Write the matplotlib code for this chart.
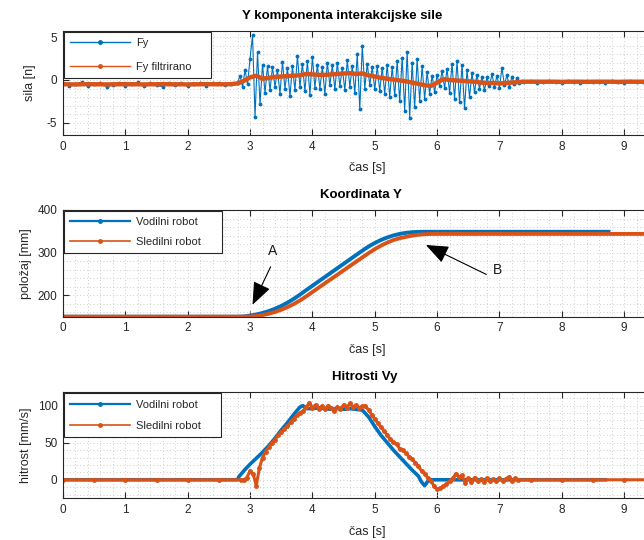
import numpy as np
import matplotlib
matplotlib.use('Agg')
import matplotlib.pyplot as plt
from matplotlib.lines import Line2D
from matplotlib.ticker import MultipleLocator
from matplotlib.patches import ArrowStyle

plt.rcParams['font.family'] = ['Liberation Sans', 'DejaVu Sans']
plt.rcParams['axes.unicode_minus'] = False

BLUE = '#0072BD'
ORANGE = '#D95319'
DARK = '#262626'

# ---------------- data ----------------
# Fy raw: quiet start (0.0..2.7, step 0.1), active part (2.80.., step 0.04), quiet end (7.5.., step 0.1)
fy_head = [-0.35, -0.70, -0.45, -0.25, -0.75, -0.50, -0.30, -0.80, -0.55, -0.30,
           -0.70, -0.45, -0.25, -0.75, -0.40, -0.60, -0.80, -0.35, -0.55, -0.30,
           -0.75, -0.45, -0.35, -0.70, -0.40, -0.30, -0.60, -0.45]
fy_mid = [-0.3, 0.5, -0.8, 1.2, -0.5, 2.5, 5.2, -4.3, 3.2, -2.8,
          1.8, -1.5, 1.6, -1.2, 1.5, -0.8, 1.2, -1.6, 2.1, -1.0,
          1.4, -1.9, 1.6, -1.2, 2.8, -0.8, 1.9, -1.3, 2.2, -1.7,
          2.7, -0.9, 1.8, -1.0, 1.5, -1.6, 2.0, -0.6, 1.7, -1.1,
          2.0, -0.7, 1.4, -1.2, 2.3, -0.8, 1.6, -1.5, 3.0, -3.4,
          4.0, -1.0, 1.9, -0.6, 1.5, -1.1, 1.6, -1.3, 1.4, -1.6,
          1.8, -2.0, 1.5, -1.8, 2.2, -2.5, 2.6, -3.6, 3.3, -4.4,
          2.0, -3.2, 2.4, -2.4, 1.6, -2.2, 0.9, -1.6, 0.5, -1.4,
          0.6, -0.7, 1.1, -0.9, 1.3, -1.5, 1.9, -2.2, 2.2, -2.6,
          1.8, -3.3, 1.2, -2.0, 0.8, -1.4, 0.6, -1.0, 0.4, -1.2,
          0.3, -0.7, 0.7, -0.8, 0.5, -0.9, 1.4, -0.6, 0.6, -0.8,
          0.4, -0.5, 0.2, -0.4, -0.1, -0.25]
fy_tail = [-0.15, -0.30, -0.20, -0.10, -0.25, -0.35, -0.15, -0.20, -0.30, -0.10,
           -0.25, -0.20, -0.35, -0.15, -0.20, -0.30, -0.10, -0.25, -0.20, -0.15,
           -0.30, -0.20, -0.25, -0.10, -0.20, -0.25]
fy_time = np.concatenate([np.arange(len(fy_head)) * 0.1,
                          2.80 + np.arange(len(fy_mid)) * 0.04,
                          7.5 + np.arange(len(fy_tail)) * 0.1])
fy_values = np.array(fy_head + fy_mid + fy_tail)

# Fy filtered, step 0.1 from 0 to 10
fyf_values = [-0.50, -0.50, -0.52, -0.50, -0.48, -0.50, -0.50, -0.52, -0.50, -0.50,
              -0.48, -0.50, -0.50, -0.52, -0.50, -0.50, -0.48, -0.50, -0.50, -0.50,
              -0.52, -0.50, -0.50, -0.48, -0.50, -0.50, -0.50, -0.48,
              -0.40, -0.10, 0.30, 0.50, 0.15, 0.25, 0.35, 0.40, 0.45, 0.50,
              0.55, 0.70, 0.65, 0.60, 0.60, 0.65, 0.70, 0.75, 0.80, 0.70,
              0.75, 0.55, 0.40, 0.25, 0.15, 0.05, -0.05, -0.15, -0.30, -0.45,
              -0.60, -0.70, -0.30, 0.10, 0.00, -0.05, -0.10, -0.15, -0.20, -0.30,
              -0.35, -0.35, -0.40, -0.35, -0.30, -0.25, -0.20, -0.20, -0.20, -0.20,
              -0.20, -0.20, -0.22, -0.20, -0.20, -0.20, -0.22, -0.20, -0.20, -0.20,
              -0.20, -0.22, -0.20, -0.20, -0.20, -0.20, -0.22, -0.20, -0.20, -0.20,
              -0.20, -0.20, -0.20]
fyf_time = np.arange(len(fyf_values)) * 0.1

# Position Y [mm]
pos_lead_time = [0.0, 0.5, 1.0, 1.5, 2.0, 2.5, 2.8, 2.9, 3.0, 3.1, 3.2, 3.3, 3.4, 3.5,
                 3.6, 3.7, 3.8, 3.9, 4.0, 4.1, 4.2, 4.3, 4.4, 4.5, 4.6, 4.7, 4.8,
                 4.9, 5.0, 5.1, 5.2, 5.3, 5.4, 5.5, 5.6, 5.7, 5.8, 6.0, 6.5, 7.0,
                 7.5, 8.0, 8.5, 8.75]
pos_lead = [150.0, 150.0, 150.0, 150.0, 150.0, 150.0, 150.0, 150.6, 152.5, 155.2,
            158.7, 163.1, 168.6, 175.2, 182.9, 191.7, 201.6, 212.2, 222.5, 232.8,
            243.0, 253.3, 263.6, 273.8, 284.1, 294.4, 304.6, 314.3, 322.7, 329.8,
            335.6, 340.5, 344.0, 346.5, 348.0, 348.8, 349.0, 349.0, 349.0, 349.0,
            349.0, 349.0, 349.0, 349.0]
pos_follow_time = [0.0, 0.5, 1.0, 1.5, 2.0, 2.5, 2.9, 3.0, 3.1, 3.2, 3.3, 3.4, 3.5,
                   3.6, 3.7, 3.8, 3.9, 4.0, 4.1, 4.2, 4.3, 4.4, 4.5, 4.6, 4.7, 4.8,
                   4.9, 5.0, 5.1, 5.2, 5.3, 5.4, 5.5, 5.6, 5.7, 5.8, 5.9, 6.0, 6.5,
                   7.0, 7.5, 8.0, 8.5, 9.0, 9.5, 10.0]
pos_follow = [150.0, 150.0, 150.0, 150.0, 150.0, 150.0, 150.0, 150.3, 151.5, 153.8,
              157.0, 161.1, 166.2, 172.4, 179.6, 188.0, 197.5, 207.8, 218.0, 228.1,
              238.2, 248.3, 258.5, 268.6, 278.7, 288.8, 298.8, 308.2, 316.5, 323.6,
              329.6, 334.0, 337.0, 340.0, 342.0, 343.3, 343.9, 344.0, 344.0, 344.0,
              344.0, 344.0, 344.0, 344.0, 344.0, 344.0]

# Velocity Vy [mm/s]
vel_lead_time = [0.0, 0.5, 1.0, 1.5, 2.0, 2.5, 2.80, 2.82, 2.9, 3.0, 3.1, 3.2, 3.3,
                 3.4, 3.5, 3.6, 3.7, 3.8, 3.85, 3.9, 4.0, 4.1, 4.2, 4.3, 4.4, 4.5,
                 4.6, 4.7, 4.8, 4.9, 5.0, 5.1, 5.2, 5.3, 5.4, 5.5, 5.6, 5.7, 5.75,
                 5.8, 5.85, 5.9, 6.0, 6.5, 7.0, 7.5, 8.0, 8.5, 8.7]
vel_lead = [0, 0, 0, 0, 0, 0, 0, 4, 12, 21, 29, 37, 46,
            56, 67, 77, 88, 98, 100, 96, 96, 97, 96, 95, 96, 95,
            96, 95, 94, 85, 72, 60, 50, 40, 31, 22, 13, 5, -3,
            -8, -2, 0, 0, 0, 0, 0, 0, 0, 0]
vel_follow_head_time = [0.0, 0.5, 1.0, 1.5, 2.0, 2.5, 2.85]
vel_follow_head = [0, 0, 0, 0, 0, 0, 0]
vel_follow_mid = [0, 3, 12, 8, -8, 16, 30, 38, 44, 50,
                  54, 60, 64, 69, 72, 78, 82, 87, 90, 93,
                  98, 104, 97, 101, 96, 99, 95, 100, 97, 93,
                  98, 96, 101, 97, 103, 98, 101, 97, 99, 100,
                  94, 88, 82, 76, 71, 66, 60, 55, 51, 48,
                  42, 40, 36, 31, 28, 23, 18, 12, 8, 3,
                  -2, -8, -13, -11, -9, -6, -2, 2, 8, 4,
                  6, -4, 2, -3, 3, -2, 1, -3, 2, -1,
                  1, -2, 2, -1, 1, 4, -1, 2, 0]
vel_follow_tail_time = [7.5, 8.0, 8.5, 9.0, 9.5, 10.0]
vel_follow_tail = [0, 0, 0, 0, 0, 0]
vel_follow_time = np.concatenate([vel_follow_head_time,
                                  2.90 + np.arange(len(vel_follow_mid)) * 0.05,
                                  vel_follow_tail_time])
vel_follow = np.array(vel_follow_head + vel_follow_mid + vel_follow_tail, dtype=float)

# annotations on position plot (data coords)
ann_A_tip, ann_A_tail, ann_A_text = (3.04, 178), (3.33, 267), (3.36, 303)
ann_B_tip, ann_B_tail, ann_B_text = (5.82, 318), (6.79, 249), (6.97, 260)

# ---------------- figure ----------------
W, H = 644, 540
fig = plt.figure(figsize=(W / 100, H / 100), dpi=100)


def px_axes(left, top, right, bottom):
    return fig.add_axes([left / W, 1 - bottom / H, (right - left) / W, (bottom - top) / H])


XR = 672
ax1 = px_axes(63, 31, XR, 135)
ax2 = px_axes(63, 210, XR, 316.7)
ax3 = px_axes(63, 392.3, XR, 498.3)
XMAX = (XR - 62.5) / 62.4


def style(ax, ymin, ymax, ymaj, ymin_step):
    ax.set_xlim(0, XMAX)
    ax.set_ylim(ymin, ymax)
    ax.xaxis.set_major_locator(MultipleLocator(1))
    ax.xaxis.set_minor_locator(MultipleLocator(0.2))
    ax.yaxis.set_major_locator(MultipleLocator(ymaj))
    ax.yaxis.set_minor_locator(MultipleLocator(ymin_step))
    ax.tick_params(which='major', direction='in', top=True, right=True, length=4,
                   width=0.8, color=DARK, labelcolor=DARK, labelsize=8.5, pad=4)
    ax.tick_params(which='minor', length=0)
    for which in ('major', 'minor'):
        ax.grid(True, which=which, linestyle=(0, (1, 3)), color='#bdbdbd', linewidth=0.6)
    for sp in ax.spines.values():
        sp.set_color(DARK)
        sp.set_linewidth(0.8)
    ax.set_axisbelow(True)
    ax.set_xlabel('čas [s]', fontsize=9, color=DARK, labelpad=7)


# --- panel 1 ---
ax1.plot(fy_time, fy_values, color=BLUE, lw=0.8, marker='.', ms=3.5)
ax1.plot(fyf_time, fyf_values, color=ORANGE, lw=3.2, solid_capstyle='round')
style(ax1, -6.4, 5.7, 5, 1)
ax1.set_ylabel('sila [n]', fontsize=9, color=DARK, labelpad=8)
ax1.set_title('Y komponenta interakcijske sile', fontsize=9.5, fontweight='bold',
              x=(342 - 63) / (XR - 63), pad=9)

# --- panel 2 ---
ax2.plot(pos_lead_time, pos_lead, color=BLUE, lw=2.8)
ax2.plot(pos_follow_time, pos_follow, color=ORANGE, lw=2.8)
style(ax2, 150, 400, 100, 20)
ax2.set_yticks([200, 300, 400])
ax2.set_ylabel('položaj [mm]', fontsize=9, color=DARK, labelpad=4)
ax2.set_title('Koordinata Y', fontsize=9.5, fontweight='bold',
              x=(361 - 63) / (XR - 63), pad=9)
arrow = ArrowStyle('-|>', head_length=1.0, head_width=0.4)
ax2.annotate('', xy=ann_A_tip, xytext=ann_A_tail,
             arrowprops=dict(arrowstyle=arrow, color='k', lw=0.8, mutation_scale=14,
                             shrinkA=0, shrinkB=0))
ax2.text(*ann_A_text, 'A', fontsize=10, ha='center', va='center', color='#1a1a1a')
ax2.annotate('', xy=ann_B_tip, xytext=ann_B_tail,
             arrowprops=dict(arrowstyle=arrow, color='k', lw=0.8, mutation_scale=14,
                             shrinkA=0, shrinkB=0))
ax2.text(*ann_B_text, 'B', fontsize=10, ha='center', va='center', color='#1a1a1a')

# --- panel 3 ---
ax3.plot(vel_lead_time, vel_lead, color=BLUE, lw=2.6)
ax3.plot(vel_follow_time, vel_follow, color=ORANGE, lw=2.2, marker='.', ms=5)
style(ax3, -25, 118, 50, 10)
ax3.set_ylabel('hitrost [mm/s]', fontsize=9, color=DARK, labelpad=4)
ax3.set_title('Hitrosti Vy', fontsize=9.5, fontweight='bold',
              x=(365 - 63) / (XR - 63), pad=9)


def legend(ax, labels, lws, width_px, spacing):
    axw = (XR - 63)
    handles = [Line2D([0], [0], color=BLUE, lw=lws[0], marker='.', ms=5),
               Line2D([0], [0], color=ORANGE, lw=lws[1], marker='.', ms=5)]
    leg = ax.legend(handles, labels, loc='upper left', bbox_to_anchor=(0, 0, width_px / axw, 1),
                    mode='expand', fontsize=8, handlelength=5.4, handletextpad=0.5,
                    labelspacing=spacing, borderpad=0.55, borderaxespad=0.1,
                    fancybox=False, framealpha=1, edgecolor=DARK)
    leg.get_frame().set_linewidth(0.8)
    for t in leg.get_texts():
        t.set_color(DARK)


legend(ax1, ['Fy', 'Fy filtrirano'], (1.0, 1.0), 149, 1.2)
legend(ax2, ['Vodilni robot', 'Sledilni robot'], (1.6, 1.2), 160, 0.9)
legend(ax3, ['Vodilni robot', 'Sledilni robot'], (1.6, 1.2), 159, 1.05)

fig.savefig('out.png', dpi=100)
